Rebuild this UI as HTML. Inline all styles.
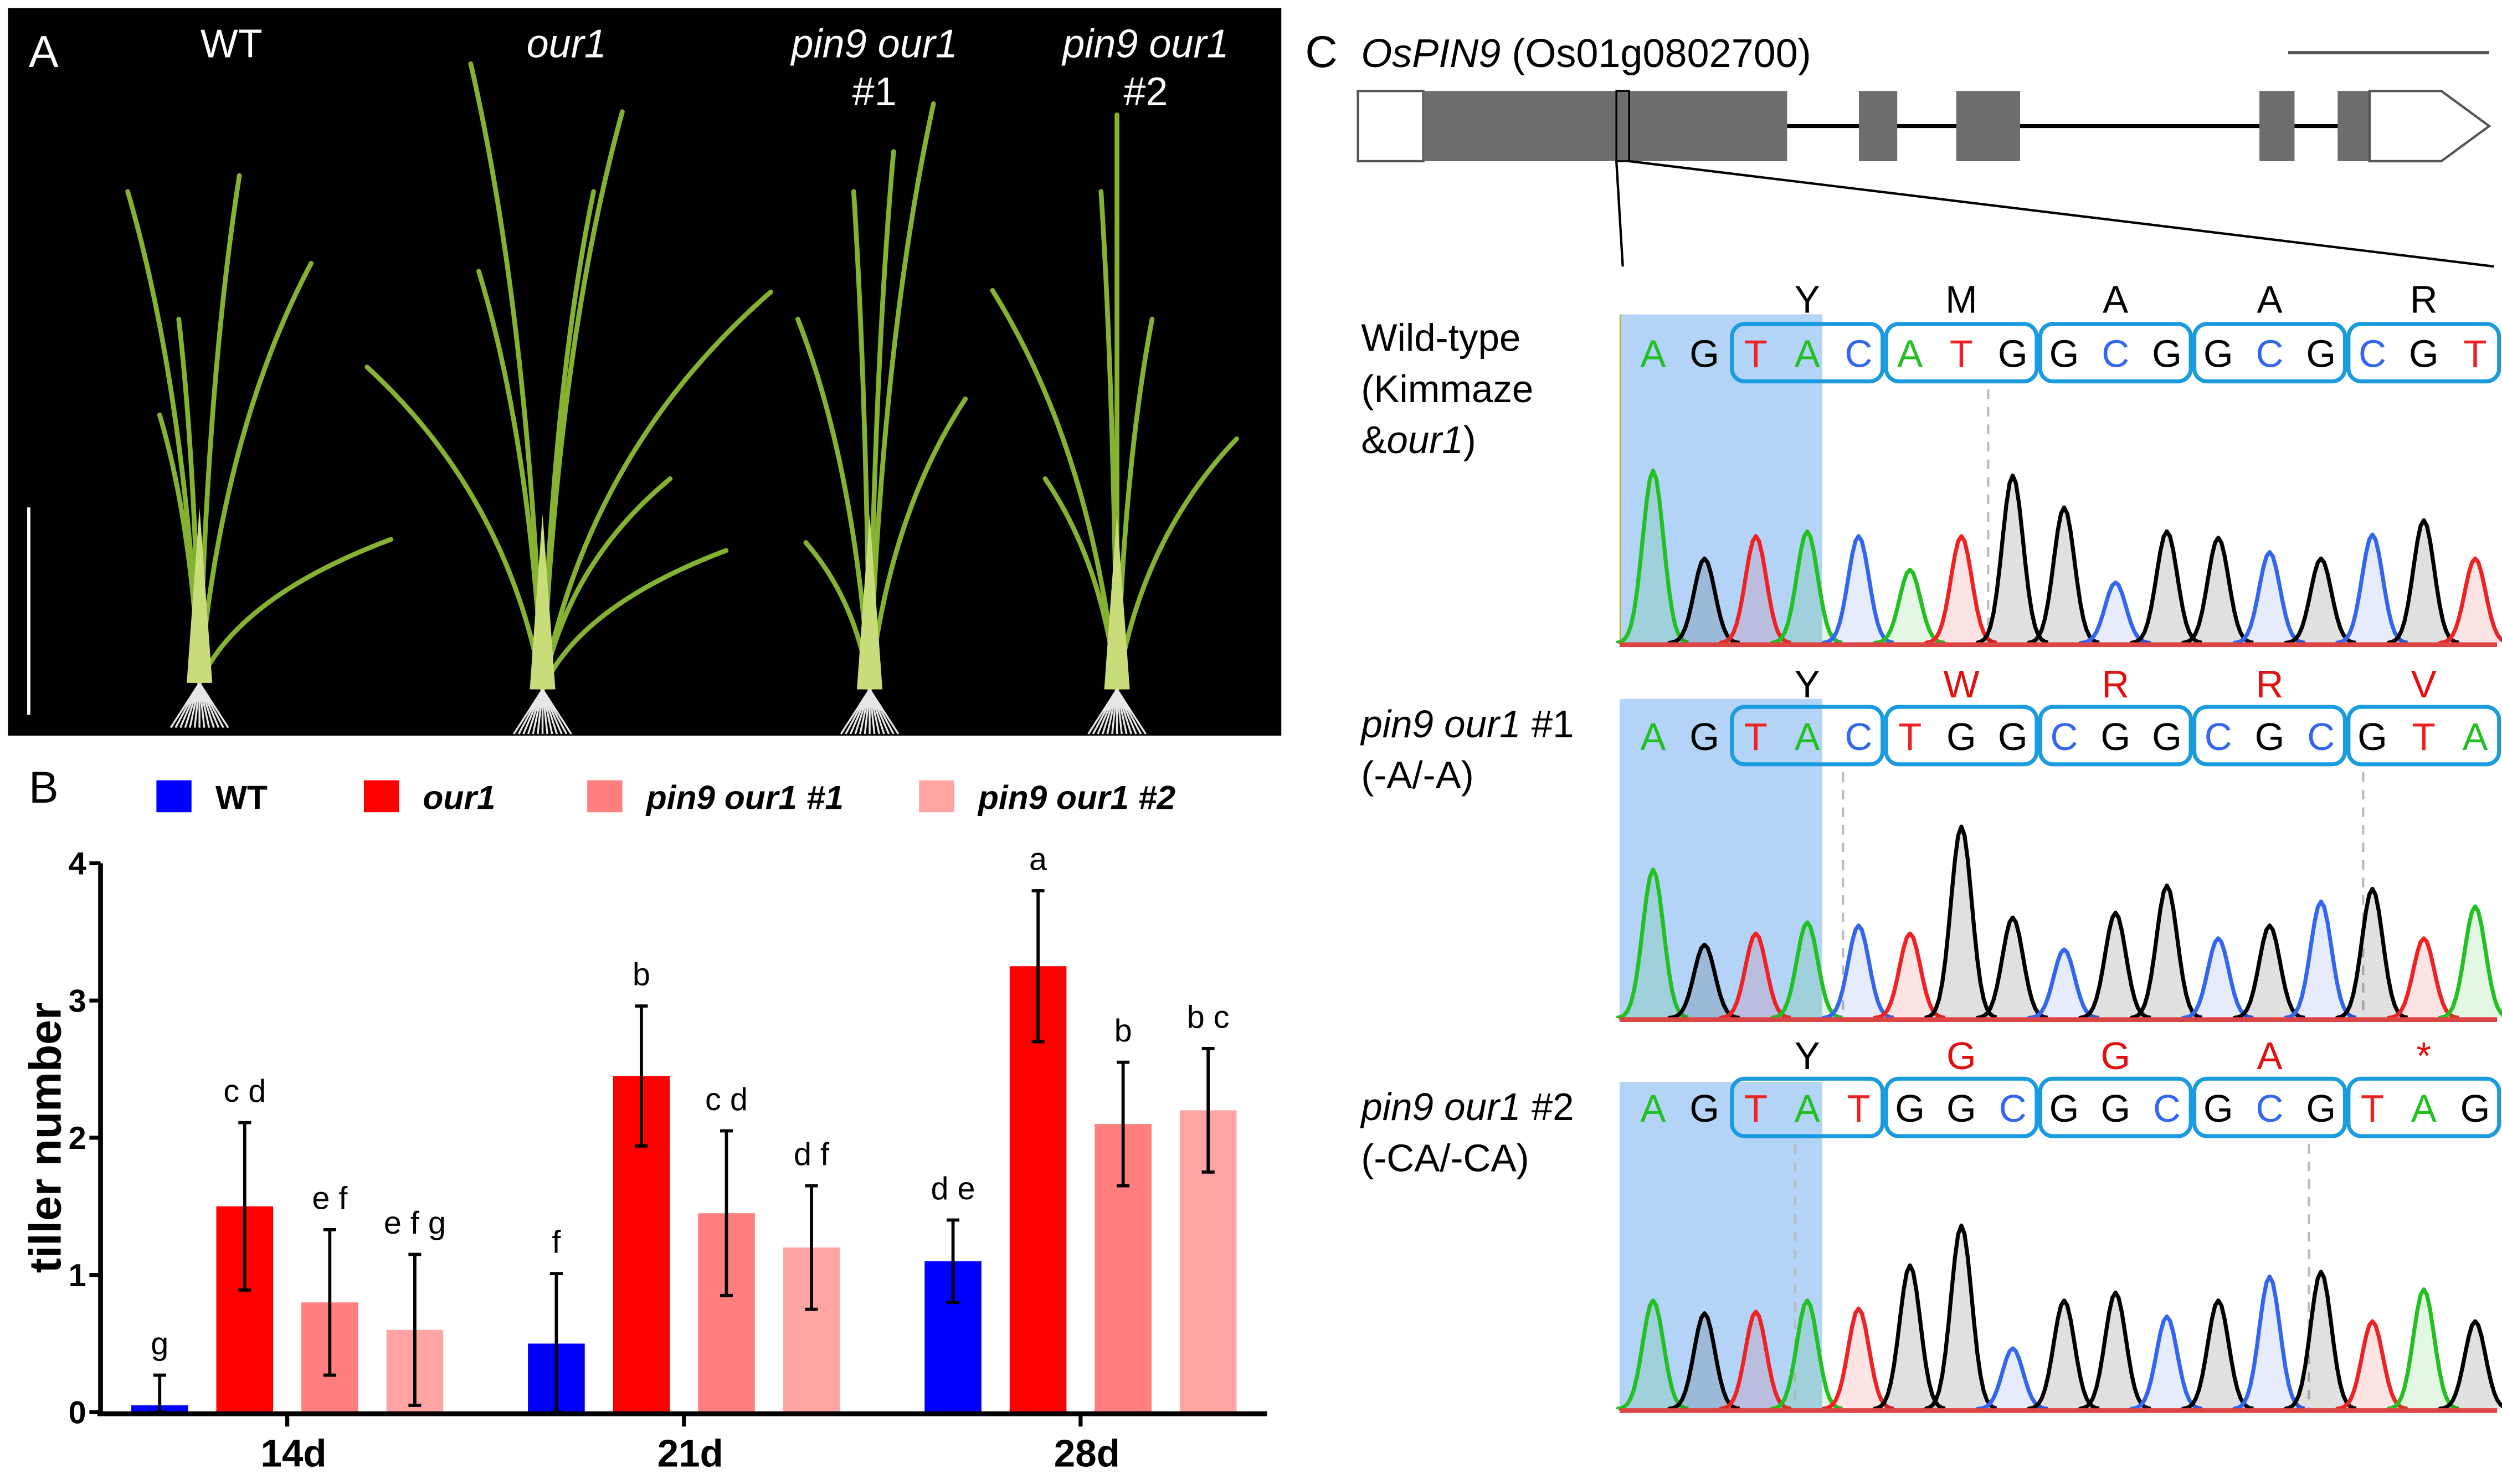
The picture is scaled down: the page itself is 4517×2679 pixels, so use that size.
<!DOCTYPE html>
<html><head><meta charset="utf-8"><style>
html,body{margin:0;padding:0;background:#fff}
svg{display:block}
text{font-family:"Liberation Sans",sans-serif}
</style></head><body>
<svg id="fig" width="4517" height="2679" viewBox="0 0 1568 930" xmlns="http://www.w3.org/2000/svg">
<g>
<rect x="5" y="5" width="798" height="456" fill="#000"/>
<g id="plants"></g>
<line x1="18" y1="318" x2="18" y2="448" stroke="#fff" stroke-width="2"/>
<text x="18" y="42" fill="#fff" font-size="28">A</text>
<text x="145" y="36" fill="#fff" font-size="25" text-anchor="middle">WT</text>
<text x="355" y="36" fill="#fff" font-size="25" font-style="italic" text-anchor="middle">our1</text>
<text x="548" y="36" fill="#fff" font-size="25" font-style="italic" text-anchor="middle">pin9 our1</text>
<text x="548" y="66" fill="#fff" font-size="25" text-anchor="middle">#1</text>
<text x="718" y="36" fill="#fff" font-size="25" font-style="italic" text-anchor="middle">pin9 our1</text>
<text x="718" y="66" fill="#fff" font-size="25" text-anchor="middle">#2</text>
</g>
<g id="chartB">
<text x="18" y="503" font-size="28">B</text>
<g id="legend"></g>
<text transform="translate(38,713) rotate(-90)" font-size="28" font-weight="bold" text-anchor="middle">tiller number</text>
<g id="bars"></g>
<g id="axes"></g>
</g>
<g id="panelC">
<text x="818" y="42" font-size="28">C</text>
<text x="853" y="42" font-size="25"><tspan font-style="italic">OsPIN9</tspan> (Os01g0802700)</text>
<line x1="1434" y1="33" x2="1560" y2="33" stroke="#555" stroke-width="2"/>
<line x1="1120" y1="79" x2="1485" y2="79" stroke="#000" stroke-width="2.5"/>
<rect x="851" y="57" width="41" height="44" fill="#fff" stroke="#555" stroke-width="1.5"/>
<rect x="892" y="57" width="228" height="44" fill="#6d6d6d"/>
<rect x="1165" y="57" width="24" height="44" fill="#6d6d6d"/>
<rect x="1226" y="57" width="40" height="44" fill="#6d6d6d"/>
<rect x="1416" y="57" width="22" height="44" fill="#6d6d6d"/>
<rect x="1465" y="57" width="20" height="44" fill="#6d6d6d"/>
<path d="M1485 57 L1530 57 L1560 79 L1530 101 L1485 101 Z" fill="#fff" stroke="#555" stroke-width="1.5"/>
<rect x="1013" y="57" width="8" height="44" fill="none" stroke="#000" stroke-width="1.2"/>
<line x1="1013" y1="101" x2="1017" y2="167" stroke="#000" stroke-width="1.5"/>
<line x1="1021" y1="101" x2="1563" y2="167" stroke="#000" stroke-width="1.5"/>
<text x="853" y="220" font-size="24">Wild-type</text>
<text x="853" y="252" font-size="24">(Kimmaze</text>
<text x="853" y="284" font-size="24">&amp;<tspan font-style="italic">our1</tspan>)</text>
<text x="853" y="462" font-size="24"><tspan font-style="italic">pin9 our1</tspan> #1</text>
<text x="853" y="494" font-size="24">(-A/-A)</text>
<text x="853" y="702" font-size="24"><tspan font-style="italic">pin9 our1</tspan> #2</text>
<text x="853" y="734" font-size="24">(-CA/-CA)</text>
<g id="chromas"></g>
</g>
</svg>
<script>
const NS="http://www.w3.org/2000/svg";
function mk(tag,attrs,parent){const e=document.createElementNS(NS,tag);for(const k in attrs)e.setAttribute(k,attrs[k]);parent.appendChild(e);return e;}

const categories=["14d","21d","28d"];
const seriesNames=["WT","our1","pin9 our1 #1","pin9 our1 #2"];
const wtVals=[0.05,0.5,1.1];
const our1Vals=[1.5,2.45,3.25];
const pin1Vals=[0.8,1.45,2.1];
const pin2Vals=[0.6,1.2,2.2];
const wtErr=[0.22,0.51,0.3];
const our1Err=[0.61,0.51,0.55];
const pin1Err=[0.53,0.6,0.45];
const pin2Err=[0.55,0.45,0.45];
const wtSig=["g","f","d e"];
const our1Sig=["c d","b","a"];
const pin1Sig=["e f","c d","b"];
const pin2Sig=["e f g","d f","b c"];
const yTicks=[0,1,2,3,4];
const colors=["#0000ff","#ff0000","#ff7f7f","#ffa3a3"];

const y0=885,yTop=541,yMax=4;
function ys(v){return y0-(v/yMax)*(y0-yTop);}
function groupX(i){return 180+i*248.6;}
function barX(i,s){return groupX(i)+(s-1.5)*53.3;}

const bars=document.getElementById('bars');
const vals=[wtVals,our1Vals,pin1Vals,pin2Vals];
const errs=[wtErr,our1Err,pin1Err,pin2Err];
const sigs=[wtSig,our1Sig,pin1Sig,pin2Sig];
for(let i=0;i<categories.length;i++){
  for(let s=0;s<4;s++){
    const cx=barX(i,s),v=vals[s][i],e=errs[s][i];
    const r=mk('rect',{x:cx-17.8,y:ys(v),width:35.6,height:y0-ys(v),fill:colors[s]},bars);
    
    
    const lo=Math.max(0,v-e),hi=v+e;
    const eb=mk('path',{d:`M${cx} ${ys(lo)}V${ys(hi)}M${cx-4} ${ys(hi)}H${cx+4}M${cx-4} ${ys(lo)}H${cx+4}`,stroke:'#000','stroke-width':2,fill:'none'},bars);
    
    
    const t=mk('text',{x:cx,y:ys(hi)-13,'font-size':20,'text-anchor':'middle'},bars);
    t.textContent=sigs[s][i];
    
    
  }
}
const axes=document.getElementById('axes');
const ya=mk('line',{x1:63,y1:y0+1,x2:63,y2:yTop,stroke:'#000','stroke-width':3},axes);


const xa=mk('line',{x1:61,y1:y0+1,x2:794,y2:y0+1,stroke:'#000','stroke-width':3},axes);


yTicks.forEach(v=>{
  const l=mk('line',{x1:56,y1:ys(v),x2:63,y2:ys(v),stroke:'#000','stroke-width':2.5},axes);
  
  
  const t=mk('text',{x:54,y:ys(v)+7,'font-size':20,'font-weight':'bold','text-anchor':'end'},axes);
  t.textContent=v;
  
  
});
categories.forEach((c,i)=>{
  const l=mk('line',{x1:groupX(i),y1:y0,x2:groupX(i),y2:y0+9,stroke:'#000','stroke-width':2.5},axes);
  
  
  const t=mk('text',{x:groupX(i)+4,y:y0+34,'font-size':24,'font-weight':'bold','text-anchor':'middle'},axes);
  t.textContent=c;
  
  
});
const legend=document.getElementById('legend');
const legX=[98,228,368,576];
seriesNames.forEach((n,s)=>{
  const r=mk('rect',{x:legX[s],y:489,width:22,height:20,fill:colors[s]},legend);
  
  
  const t=mk('text',{x:legX[s]+37,y:507,'font-size':21,'font-weight':'bold','font-style':s?'italic':'normal'},legend);
  t.textContent=n;
  
  
});

const plantBases=[[125,428],[340,432],[545,432],[700,432]];
const plantTips=[
 [[80,120],[112,200],[195,165],[245,338],[150,110],[100,260]],
 [[295,40],[230,230],[483,183],[420,300],[372,120],[300,170],[455,345],[390,70]],
 [[585,65],[500,200],[535,120],[605,250],[505,340],[560,95]],
 [[700,72],[622,182],[775,275],[722,200],[655,300],[690,120]]
];
const pg=document.getElementById('plants');
plantBases.forEach((b,p)=>{
  plantTips[p].forEach(t=>{
    const mx=(b[0]*0.6+t[0]*0.4),my=(b[1]*0.4+t[1]*0.6);
    const path=mk('path',{d:`M${b[0]} ${b[1]} Q${(b[0]+mx)/2} ${my} ${t[0]} ${t[1]}`,stroke:'#86b232','stroke-width':3,fill:'none','stroke-linecap':'round'},pg);
    
    
  });
  const st=mk('path',{d:`M${b[0]-8} ${b[1]} L${b[0]} ${b[1]-110} L${b[0]+8} ${b[1]} Z`,fill:'#c8dc7a'},pg);
  
  
  let rd='';
  for(let k=-6;k<=6;k++){rd+=`M${b[0]} ${b[1]} L${b[0]+k*3} ${b[1]+28} `;}
  const rt=mk('path',{d:rd,stroke:'#e6e6e6','stroke-width':1.2,fill:'none'},pg);
  
  
});

const baseColor={A:'#22c022',G:'#000',T:'#ee2222',C:'#3366ee'};
const fillColor={A:'rgba(34,192,34,0.12)',G:'rgba(0,0,0,0.12)',T:'rgba(238,34,34,0.12)',C:'rgba(51,102,238,0.12)'};
const row1Seq="AGTACATGGCGGCGCGT";
const row2Seq="AGTACTGGCGGCGCGTA";
const row3Seq="AGTATGGCGGCGCGTAG";
const row1Peaks=[295,350,336,333,336,357,336,298,318,365,333,337,346,350,335,326,350];
const row2Peaks=[545,592,585,578,580,585,518,575,595,572,555,588,580,565,557,588,568];
const row3Peaks=[815,823,822,815,820,793,768,845,815,810,825,815,800,797,828,808,828];
const row1AA=["Y","M","A","A","R"];
const row2AA=["Y","W","R","R","V"];
const row3AA=["Y","G","G","A","*"];
const rows=[
 {seq:row1Seq,peaks:row1Peaks,aa:row1AA,aaRed:[0,0,0,0,0],base:403,top:197,letY:230,aaY:196,dash:[1246]},
 {seq:row2Seq,peaks:row2Peaks,aa:row2AA,aaRed:[0,1,1,1,1],base:638,top:438,letY:470,aaY:437,dash:[1155,1481]},
 {seq:row3Seq,peaks:row3Peaks,aa:row3AA,aaRed:[0,1,1,1,1],base:883,top:678,letY:703,aaY:670,dash:[1125,1447]}
];
const cg=document.getElementById('chromas');
function px(k){return 1036+k*32.2;}
rows.forEach((r,ri)=>{
  const sh=mk('rect',{x:1015,y:r.top,width:127,height:r.base-r.top+2,fill:'#b3d3f7'},cg);
  
  
  if(ri==0){const yl=mk('line',{x1:1015.5,y1:r.top,x2:1015.5,y2:r.base,stroke:'#b5b530','stroke-width':1},cg);}
  r.dash.forEach(dx=>{
    const d=mk('line',{x1:dx,y1:r.letY+14,x2:dx,y2:r.base,stroke:'#bbb','stroke-width':1.5,'stroke-dasharray':'6,5'},cg);
    
    
  });
  for(let k=0;k<r.seq.length;k++){
    const b=r.seq[k],cx=px(k),h=r.base-r.peaks[k];
    let d=`M${cx-22} ${r.base}`;
    for(let x=-22;x<=22;x+=2){d+=` L${cx+x} ${r.base-h*Math.exp(-(x*x)/(2*6.5*6.5))}`;}
    const p=mk('path',{d:d,fill:fillColor[b],stroke:baseColor[b],'stroke-width':2.5,'stroke-linejoin':'round'},cg);
    
    
    const t=mk('text',{x:cx,y:r.letY,'font-size':24,'text-anchor':'middle',fill:baseColor[b]},cg);
    t.textContent=b;
    
    
  }
  const bl=mk('line',{x1:1015,y1:r.base+1,x2:1565,y2:r.base+1,stroke:'#d44','stroke-width':3},cg);
  
  
  for(let c=0;c<5;c++){
    const x1=px(2+3*c)-15,x2=px(4+3*c)+15;
    const box=mk('rect',{x:x1,y:r.letY-27,width:x2-x1,height:36,rx:8,fill:'none',stroke:'#1a9be0','stroke-width':2.5},cg);
    
    
    const t=mk('text',{x:px(3+3*c),y:r.aaY,'font-size':24,'text-anchor':'middle',fill:r.aaRed[c]?'#e01010':'#000'},cg);
    t.textContent=r.aa[c];
    
    
  }
});
</script>
</body></html>
